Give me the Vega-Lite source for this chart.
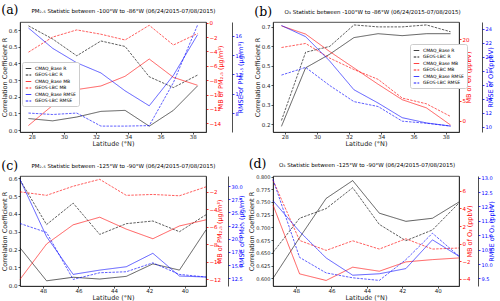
{
 "$schema": "https://vega.github.io/schema/vega-lite/v6.json",
 "padding": {"left": 0, "top": 3, "right": 0, "bottom": 0},
 "background": "white",
 "datasets": {
  "a": [
   {"lat":27.8,"s":"CMAQ_Base R","m":"R","v":0.069},{"lat":29.3,"s":"CMAQ_Base R","m":"R","v":0.055},{"lat":30.8,"s":"CMAQ_Base R","m":"R","v":0.078},{"lat":32.3,"s":"CMAQ_Base R","m":"R","v":0.112},{"lat":33.8,"s":"CMAQ_Base R","m":"R","v":0.118},{"lat":35.3,"s":"CMAQ_Base R","m":"R","v":0.023},{"lat":36.8,"s":"CMAQ_Base R","m":"R","v":0.118},{"lat":38.3,"s":"CMAQ_Base R","m":"R","v":0.265},
   {"lat":27.8,"s":"GEOS-LBC R","m":"R","v":0.626},{"lat":29.3,"s":"GEOS-LBC R","m":"R","v":0.547},{"lat":30.8,"s":"GEOS-LBC R","m":"R","v":0.446},{"lat":32.3,"s":"GEOS-LBC R","m":"R","v":0.535},{"lat":33.8,"s":"GEOS-LBC R","m":"R","v":0.502},{"lat":35.3,"s":"GEOS-LBC R","m":"R","v":0.32},{"lat":36.8,"s":"GEOS-LBC R","m":"R","v":0.255},{"lat":38.3,"s":"GEOS-LBC R","m":"R","v":0.33},
   {"lat":27.8,"s":"CMAQ_Base MB","m":"MB","v":-14.3},{"lat":29.3,"s":"CMAQ_Base MB","m":"MB","v":-11.5},{"lat":30.8,"s":"CMAQ_Base MB","m":"MB","v":-9.3},{"lat":32.3,"s":"CMAQ_Base MB","m":"MB","v":-8.8},{"lat":33.8,"s":"CMAQ_Base MB","m":"MB","v":-7.45},{"lat":35.3,"s":"CMAQ_Base MB","m":"MB","v":-5.05},{"lat":36.8,"s":"CMAQ_Base MB","m":"MB","v":-7.6},{"lat":38.3,"s":"CMAQ_Base MB","m":"MB","v":-8.7},
   {"lat":27.8,"s":"GEOS-LBC MB","m":"MB","v":-4.1},{"lat":29.3,"s":"GEOS-LBC MB","m":"MB","v":-2.0},{"lat":30.8,"s":"GEOS-LBC MB","m":"MB","v":-1.0},{"lat":32.3,"s":"GEOS-LBC MB","m":"MB","v":-1.6},{"lat":33.8,"s":"GEOS-LBC MB","m":"MB","v":-2.4},{"lat":35.3,"s":"GEOS-LBC MB","m":"MB","v":-0.36},{"lat":36.8,"s":"GEOS-LBC MB","m":"MB","v":-3.1},{"lat":38.3,"s":"GEOS-LBC MB","m":"MB","v":-1.5},
   {"lat":27.8,"s":"CMAQ_Base RMSE","m":"RMSE","v":16.8},{"lat":29.3,"s":"CMAQ_Base RMSE","m":"RMSE","v":14.7},{"lat":30.8,"s":"CMAQ_Base RMSE","m":"RMSE","v":13.2},{"lat":32.3,"s":"CMAQ_Base RMSE","m":"RMSE","v":12.15},{"lat":33.8,"s":"CMAQ_Base RMSE","m":"RMSE","v":10.3},{"lat":35.3,"s":"CMAQ_Base RMSE","m":"RMSE","v":8.75},{"lat":36.8,"s":"CMAQ_Base RMSE","m":"RMSE","v":11.9},{"lat":38.3,"s":"CMAQ_Base RMSE","m":"RMSE","v":16.1},
   {"lat":27.8,"s":"GEOS-LBC RMSE","m":"RMSE","v":8.0},{"lat":29.3,"s":"GEOS-LBC RMSE","m":"RMSE","v":7.85},{"lat":30.8,"s":"GEOS-LBC RMSE","m":"RMSE","v":8.0},{"lat":32.3,"s":"GEOS-LBC RMSE","m":"RMSE","v":6.65},{"lat":33.8,"s":"GEOS-LBC RMSE","m":"RMSE","v":6.65},{"lat":35.3,"s":"GEOS-LBC RMSE","m":"RMSE","v":6.7},{"lat":36.8,"s":"GEOS-LBC RMSE","m":"RMSE","v":11.15},{"lat":38.3,"s":"GEOS-LBC RMSE","m":"RMSE","v":17.1}
  ],
  "b": [
   {"lat":27.8,"s":"CMAQ_Base R","m":"R","v":0.19},{"lat":29.3,"s":"CMAQ_Base R","m":"R","v":0.49},{"lat":30.8,"s":"CMAQ_Base R","m":"R","v":0.56},{"lat":32.3,"s":"CMAQ_Base R","m":"R","v":0.645},{"lat":33.8,"s":"CMAQ_Base R","m":"R","v":0.665},{"lat":35.3,"s":"CMAQ_Base R","m":"R","v":0.655},{"lat":36.8,"s":"CMAQ_Base R","m":"R","v":0.665},{"lat":38.3,"s":"CMAQ_Base R","m":"R","v":0.665},
   {"lat":27.8,"s":"GEOS-LBC R","m":"R","v":0.22},{"lat":29.3,"s":"GEOS-LBC R","m":"R","v":0.57},{"lat":30.8,"s":"GEOS-LBC R","m":"R","v":0.60},{"lat":32.3,"s":"GEOS-LBC R","m":"R","v":0.71},{"lat":33.8,"s":"GEOS-LBC R","m":"R","v":0.70},{"lat":35.3,"s":"GEOS-LBC R","m":"R","v":0.70},{"lat":36.8,"s":"GEOS-LBC R","m":"R","v":0.71},{"lat":38.3,"s":"GEOS-LBC R","m":"R","v":0.675},
   {"lat":27.8,"s":"CMAQ_Base MB","m":"MB","v":23.3},{"lat":29.3,"s":"CMAQ_Base MB","m":"MB","v":21.3},{"lat":30.8,"s":"CMAQ_Base MB","m":"MB","v":17.0},{"lat":32.3,"s":"CMAQ_Base MB","m":"MB","v":13.0},{"lat":33.8,"s":"CMAQ_Base MB","m":"MB","v":9.0},{"lat":35.3,"s":"CMAQ_Base MB","m":"MB","v":5.2},{"lat":36.8,"s":"CMAQ_Base MB","m":"MB","v":3.2},{"lat":38.3,"s":"CMAQ_Base MB","m":"MB","v":-1.0},
   {"lat":27.8,"s":"GEOS-LBC MB","m":"MB","v":18.0},{"lat":29.3,"s":"GEOS-LBC MB","m":"MB","v":19.0},{"lat":30.8,"s":"GEOS-LBC MB","m":"MB","v":15.4},{"lat":32.3,"s":"GEOS-LBC MB","m":"MB","v":12.6},{"lat":33.8,"s":"GEOS-LBC MB","m":"MB","v":10.2},{"lat":35.3,"s":"GEOS-LBC MB","m":"MB","v":5.6},{"lat":36.8,"s":"GEOS-LBC MB","m":"MB","v":4.2},{"lat":38.3,"s":"GEOS-LBC MB","m":"MB","v":1.1},
   {"lat":27.8,"s":"CMAQ_Base RMSE","m":"RMSE","v":24.5},{"lat":29.3,"s":"CMAQ_Base RMSE","m":"RMSE","v":22.9},{"lat":30.8,"s":"CMAQ_Base RMSE","m":"RMSE","v":19.4},{"lat":32.3,"s":"CMAQ_Base RMSE","m":"RMSE","v":15.3},{"lat":33.8,"s":"CMAQ_Base RMSE","m":"RMSE","v":13.4},{"lat":35.3,"s":"CMAQ_Base RMSE","m":"RMSE","v":11.3},{"lat":36.8,"s":"CMAQ_Base RMSE","m":"RMSE","v":10.55},{"lat":38.3,"s":"CMAQ_Base RMSE","m":"RMSE","v":10.1},
   {"lat":27.8,"s":"GEOS-LBC RMSE","m":"RMSE","v":17.4},{"lat":29.3,"s":"GEOS-LBC RMSE","m":"RMSE","v":18.5},{"lat":30.8,"s":"GEOS-LBC RMSE","m":"RMSE","v":15.9},{"lat":32.3,"s":"GEOS-LBC RMSE","m":"RMSE","v":13.6},{"lat":33.8,"s":"GEOS-LBC RMSE","m":"RMSE","v":12.9},{"lat":35.3,"s":"GEOS-LBC RMSE","m":"RMSE","v":10.8},{"lat":36.8,"s":"GEOS-LBC RMSE","m":"RMSE","v":10.5},{"lat":38.3,"s":"GEOS-LBC RMSE","m":"RMSE","v":10.1}
  ],
  "c": [
   {"lat":49.3,"s":"CMAQ_Base R","m":"R","v":0.21},{"lat":47.8,"s":"CMAQ_Base R","m":"R","v":0.025},{"lat":46.3,"s":"CMAQ_Base R","m":"R","v":0.045},{"lat":44.8,"s":"CMAQ_Base R","m":"R","v":0.035},{"lat":43.3,"s":"CMAQ_Base R","m":"R","v":0.05},{"lat":41.8,"s":"CMAQ_Base R","m":"R","v":0.12},{"lat":40.3,"s":"CMAQ_Base R","m":"R","v":0.085},{"lat":38.8,"s":"CMAQ_Base R","m":"R","v":0.31},
   {"lat":49.3,"s":"GEOS-LBC R","m":"R","v":0.59},{"lat":47.8,"s":"GEOS-LBC R","m":"R","v":0.34},{"lat":46.3,"s":"GEOS-LBC R","m":"R","v":0.46},{"lat":44.8,"s":"GEOS-LBC R","m":"R","v":0.285},{"lat":43.3,"s":"GEOS-LBC R","m":"R","v":0.345},{"lat":41.8,"s":"GEOS-LBC R","m":"R","v":0.36},{"lat":40.3,"s":"GEOS-LBC R","m":"R","v":0.30},{"lat":38.8,"s":"GEOS-LBC R","m":"R","v":0.395},
   {"lat":49.3,"s":"CMAQ_Base MB","m":"MB","v":-12.0},{"lat":47.8,"s":"CMAQ_Base MB","m":"MB","v":-7.96},{"lat":46.3,"s":"CMAQ_Base MB","m":"MB","v":-5.77},{"lat":44.8,"s":"CMAQ_Base MB","m":"MB","v":-4.9},{"lat":43.3,"s":"CMAQ_Base MB","m":"MB","v":-6.26},{"lat":41.8,"s":"CMAQ_Base MB","m":"MB","v":-7.36},{"lat":40.3,"s":"CMAQ_Base MB","m":"MB","v":-5.9},{"lat":38.8,"s":"CMAQ_Base MB","m":"MB","v":-5.2},
   {"lat":49.3,"s":"GEOS-LBC MB","m":"MB","v":-2.0},{"lat":47.8,"s":"GEOS-LBC MB","m":"MB","v":-2.4},{"lat":46.3,"s":"GEOS-LBC MB","m":"MB","v":-1.36},{"lat":44.8,"s":"GEOS-LBC MB","m":"MB","v":-0.57},{"lat":43.3,"s":"GEOS-LBC MB","m":"MB","v":-2.4},{"lat":41.8,"s":"GEOS-LBC MB","m":"MB","v":-2.3},{"lat":40.3,"s":"GEOS-LBC MB","m":"MB","v":-2.45},{"lat":38.8,"s":"GEOS-LBC MB","m":"MB","v":-1.43},
   {"lat":49.3,"s":"CMAQ_Base RMSE","m":"RMSE","v":31.25},{"lat":47.8,"s":"CMAQ_Base RMSE","m":"RMSE","v":20.4},{"lat":46.3,"s":"CMAQ_Base RMSE","m":"RMSE","v":13.25},{"lat":44.8,"s":"CMAQ_Base RMSE","m":"RMSE","v":14.06},{"lat":43.3,"s":"CMAQ_Base RMSE","m":"RMSE","v":14.7},{"lat":41.8,"s":"CMAQ_Base RMSE","m":"RMSE","v":17.25},{"lat":40.3,"s":"CMAQ_Base RMSE","m":"RMSE","v":12.94},{"lat":38.8,"s":"CMAQ_Base RMSE","m":"RMSE","v":12.75},
   {"lat":49.3,"s":"GEOS-LBC RMSE","m":"RMSE","v":22.9},{"lat":47.8,"s":"GEOS-LBC RMSE","m":"RMSE","v":21.2},{"lat":46.3,"s":"GEOS-LBC RMSE","m":"RMSE","v":12.3},{"lat":44.8,"s":"GEOS-LBC RMSE","m":"RMSE","v":13.56},{"lat":43.3,"s":"GEOS-LBC RMSE","m":"RMSE","v":13.75},{"lat":41.8,"s":"GEOS-LBC RMSE","m":"RMSE","v":15.44},{"lat":40.3,"s":"GEOS-LBC RMSE","m":"RMSE","v":13.25},{"lat":38.8,"s":"GEOS-LBC RMSE","m":"RMSE","v":12.75}
  ],
  "d": [
   {"lat":49.3,"s":"CMAQ_Base R","m":"R","v":0.60},{"lat":47.8,"s":"CMAQ_Base R","m":"R","v":0.68},{"lat":46.3,"s":"CMAQ_Base R","m":"R","v":0.757},{"lat":44.8,"s":"CMAQ_Base R","m":"R","v":0.792},{"lat":43.3,"s":"CMAQ_Base R","m":"R","v":0.728},{"lat":41.8,"s":"CMAQ_Base R","m":"R","v":0.712},{"lat":40.3,"s":"CMAQ_Base R","m":"R","v":0.718},{"lat":38.8,"s":"CMAQ_Base R","m":"R","v":0.75},
   {"lat":49.3,"s":"GEOS-LBC R","m":"R","v":0.651},{"lat":47.8,"s":"GEOS-LBC R","m":"R","v":0.718},{"lat":46.3,"s":"GEOS-LBC R","m":"R","v":0.737},{"lat":44.8,"s":"GEOS-LBC R","m":"R","v":0.778},{"lat":43.3,"s":"GEOS-LBC R","m":"R","v":0.706},{"lat":41.8,"s":"GEOS-LBC R","m":"R","v":0.674},{"lat":40.3,"s":"GEOS-LBC R","m":"R","v":0.695},{"lat":38.8,"s":"GEOS-LBC R","m":"R","v":0.748},
   {"lat":49.3,"s":"CMAQ_Base MB","m":"MB","v":4.4},{"lat":47.8,"s":"CMAQ_Base MB","m":"MB","v":-3.44},{"lat":46.3,"s":"CMAQ_Base MB","m":"MB","v":-4.19},{"lat":44.8,"s":"CMAQ_Base MB","m":"MB","v":-2.68},{"lat":43.3,"s":"CMAQ_Base MB","m":"MB","v":-3.14},{"lat":41.8,"s":"CMAQ_Base MB","m":"MB","v":-2.08},{"lat":40.3,"s":"CMAQ_Base MB","m":"MB","v":-1.82},{"lat":38.8,"s":"CMAQ_Base MB","m":"MB","v":-1.63},
   {"lat":49.3,"s":"GEOS-LBC MB","m":"MB","v":7.2},{"lat":47.8,"s":"GEOS-LBC MB","m":"MB","v":0.36},{"lat":46.3,"s":"GEOS-LBC MB","m":"MB","v":-0.77},{"lat":44.8,"s":"GEOS-LBC MB","m":"MB","v":0.32},{"lat":43.3,"s":"GEOS-LBC MB","m":"MB","v":-0.62},{"lat":41.8,"s":"GEOS-LBC MB","m":"MB","v":0.55},{"lat":40.3,"s":"GEOS-LBC MB","m":"MB","v":-0.62},{"lat":38.8,"s":"GEOS-LBC MB","m":"MB","v":-0.5},
   {"lat":49.3,"s":"CMAQ_Base RMSE","m":"RMSE","v":12.2},{"lat":47.8,"s":"CMAQ_Base RMSE","m":"RMSE","v":11.13},{"lat":46.3,"s":"CMAQ_Base RMSE","m":"RMSE","v":10.21},{"lat":44.8,"s":"CMAQ_Base RMSE","m":"RMSE","v":9.61},{"lat":43.3,"s":"CMAQ_Base RMSE","m":"RMSE","v":9.66},{"lat":41.8,"s":"CMAQ_Base RMSE","m":"RMSE","v":9.84},{"lat":40.3,"s":"CMAQ_Base RMSE","m":"RMSE","v":10.84},{"lat":38.8,"s":"CMAQ_Base RMSE","m":"RMSE","v":10.27},
   {"lat":49.3,"s":"GEOS-LBC RMSE","m":"RMSE","v":12.94},{"lat":47.8,"s":"GEOS-LBC RMSE","m":"RMSE","v":10.23},{"lat":46.3,"s":"GEOS-LBC RMSE","m":"RMSE","v":9.69},{"lat":44.8,"s":"GEOS-LBC RMSE","m":"RMSE","v":9.52},{"lat":43.3,"s":"GEOS-LBC RMSE","m":"RMSE","v":9.43},{"lat":41.8,"s":"GEOS-LBC RMSE","m":"RMSE","v":10.15},{"lat":40.3,"s":"GEOS-LBC RMSE","m":"RMSE","v":11.07},{"lat":38.8,"s":"GEOS-LBC RMSE","m":"RMSE","v":10.27}
  ]
 },
 "columns": 2,
 "bounds": "flush",
 "spacing": {"row": 44, "column": 67},
 "resolve": {"scale": {"color": "independent", "strokeDash": "independent"}, "legend": {"color": "independent", "strokeDash": "independent"}},
 "concat": [
  {
   "width": 186, "height": 110,
   "title": {"text": "(a)", "subtitle": "\u200b\u2003\u2003\u2003\u2003\u2003\u2002PM\u2082.\u2085 Statistic between -100°W to -86°W (06/24/2015-07/08/2015)"},
   "data": {"name": "a"},
   "encoding": {
    "x": {"field": "lat", "type": "quantitative", "scale": {"domain": [27.275, 38.825], "nice": false, "zero": false}, "axis": {"values": [28,30,32,34,36,38], "title": "Latitude (°N)"}},
    "color": {"field": "s", "type": "nominal", "scale": {"domain": ["CMAQ_Base R","GEOS-LBC R","CMAQ_Base MB","GEOS-LBC MB","CMAQ_Base RMSE","GEOS-LBC RMSE"], "range": ["#000000","#000000","#ff0000","#ff0000","#0000ff","#0000ff"]}, "legend": {"orient": "none", "legendX": 2, "legendY": 40, "title": null}},
    "strokeDash": {"field": "s", "type": "nominal", "scale": {"domain": ["CMAQ_Base R","GEOS-LBC R","CMAQ_Base MB","GEOS-LBC MB","CMAQ_Base RMSE","GEOS-LBC RMSE"], "range": [[1,0],[2.5,1.2],[1,0],[2.5,1.2],[1,0],[2.5,1.2]]}, "legend": {"orient": "none", "legendX": 2, "legendY": 40, "title": null}}
   },
   "layer": [
    {"transform": [{"filter": "datum.m == 'R'"}], "mark": {"type": "line"},
     "encoding": {"y": {"field": "v", "type": "quantitative", "scale": {"domain": [-0.012, 0.649], "nice": false, "zero": false}, "axis": {"orient": "left", "title": "Correlation Coefficient R", "values": [0,0.1,0.2,0.3,0.4,0.5,0.6], "format": ".1f"}}}},
    {"transform": [{"filter": "datum.m == 'MB'"}], "mark": {"type": "line"},
     "encoding": {"y": {"field": "v", "type": "quantitative", "scale": {"domain": [-15.2, 0.1], "nice": false, "zero": false}, "axis": {"orient": "right", "title": "MB of PM\u2082.\u2085 (μg/m³)", "values": [-14,-12,-10,-8,-6,-4,-2,0], "labelColor": "#ff0000", "titleColor": "#ff0000", "tickColor": "#ff0000", "titleAngle": 270, "titlePadding": 3}}}},
    {"transform": [{"filter": "datum.m == 'RMSE'"}], "mark": {"type": "line"},
     "encoding": {"y": {"field": "v", "type": "quantitative", "scale": {"domain": [6.04, 17.42], "nice": false, "zero": false}, "axis": {"orient": "right", "offset": 26, "title": "RMSE of PM\u2082.\u2085 (μg/m³)", "values": [8,10,12,14,16], "labelColor": "#0000ff", "titleColor": "#0000ff", "tickColor": "#0000ff", "titleAngle": 270, "labelFontSize": 5, "titlePadding": 2}}}}
   ],
   "resolve": {"scale": {"y": "independent"}}
  },
  {
   "width": 186, "height": 110,
   "title": {"text": "(b)", "subtitle": "\u200b\u2003\u2003\u2003\u2003\u2003\u2002O\u2083 Statistic between -100°W to -86°W (06/24/2015-07/08/2015)"},
   "data": {"name": "b"},
   "encoding": {
    "x": {"field": "lat", "type": "quantitative", "scale": {"domain": [27.275, 38.825], "nice": false, "zero": false}, "axis": {"values": [28,30,32,34,36,38], "title": "Latitude (°N)"}},
    "color": {"field": "s", "type": "nominal", "scale": {"domain": ["CMAQ_Base R","GEOS-LBC R","CMAQ_Base MB","GEOS-LBC MB","CMAQ_Base RMSE","GEOS-LBC RMSE"], "range": ["#000000","#000000","#ff0000","#ff0000","#0000ff","#0000ff"]}, "legend": {"orient": "none", "legendX": 137, "legendY": 22, "title": null}},
    "strokeDash": {"field": "s", "type": "nominal", "scale": {"domain": ["CMAQ_Base R","GEOS-LBC R","CMAQ_Base MB","GEOS-LBC MB","CMAQ_Base RMSE","GEOS-LBC RMSE"], "range": [[1,0],[2.5,1.2],[1,0],[2.5,1.2],[1,0],[2.5,1.2]]}, "legend": {"orient": "none", "legendX": 137, "legendY": 22, "title": null}}
   },
   "layer": [
    {"transform": [{"filter": "datum.m == 'R'"}], "mark": {"type": "line"},
     "encoding": {"y": {"field": "v", "type": "quantitative", "scale": {"domain": [0.161, 0.725], "nice": false, "zero": false}, "axis": {"orient": "left", "title": "Correlation Coefficient R", "values": [0.2,0.3,0.4,0.5,0.6,0.7], "format": ".1f"}}}},
    {"transform": [{"filter": "datum.m == 'MB'"}], "mark": {"type": "line"},
     "encoding": {"y": {"field": "v", "type": "quantitative", "scale": {"domain": [-2.72, 24.26], "nice": false, "zero": false}, "axis": {"orient": "right", "title": "MB of O\u2083 (ppbV)", "values": [0,5,10,15,20], "labelColor": "#ff0000", "titleColor": "#ff0000", "tickColor": "#ff0000", "titleAngle": 270, "titlePadding": 3}}}},
    {"transform": [{"filter": "datum.m == 'RMSE'"}], "mark": {"type": "line"},
     "encoding": {"y": {"field": "v", "type": "quantitative", "scale": {"domain": [9.25, 25.0], "nice": false, "zero": false}, "axis": {"orient": "right", "offset": 23, "title": "RMSE of O\u2083 (ppbV)", "values": [10,12,14,16,18,20,22,24], "labelColor": "#0000ff", "titleColor": "#0000ff", "tickColor": "#0000ff", "titleAngle": 270, "labelFontSize": 5, "titlePadding": 2}}}}
   ],
   "resolve": {"scale": {"y": "independent"}}
  },
  {
   "width": 186, "height": 110,
   "title": {"text": "(c)", "subtitle": "\u200b\u2003\u2003\u2003\u2003\u2003\u2002PM\u2082.\u2085 Statistic between -125°W to -90°W (06/24/2015-07/08/2015)"},
   "data": {"name": "c"},
   "encoding": {
    "x": {"field": "lat", "type": "quantitative", "scale": {"domain": [38.8, 49.3], "reverse": true, "nice": false, "zero": false}, "axis": {"values": [40,42,44,46,48], "title": "Latitude (°N)"}},
    "color": {"field": "s", "type": "nominal", "scale": {"domain": ["CMAQ_Base R","GEOS-LBC R","CMAQ_Base MB","GEOS-LBC MB","CMAQ_Base RMSE","GEOS-LBC RMSE"], "range": ["#000000","#000000","#ff0000","#ff0000","#0000ff","#0000ff"]}, "legend": null},
    "strokeDash": {"field": "s", "type": "nominal", "scale": {"domain": ["CMAQ_Base R","GEOS-LBC R","CMAQ_Base MB","GEOS-LBC MB","CMAQ_Base RMSE","GEOS-LBC RMSE"], "range": [[1,0],[2.5,1.2],[1,0],[2.5,1.2],[1,0],[2.5,1.2]]}, "legend": null}
   },
   "layer": [
    {"transform": [{"filter": "datum.m == 'R'"}], "mark": {"type": "line"},
     "encoding": {"y": {"field": "v", "type": "quantitative", "scale": {"domain": [-0.004, 0.612], "nice": false, "zero": false}, "axis": {"orient": "left", "title": "Correlation Coefficient R", "values": [0,0.1,0.2,0.3,0.4,0.5,0.6], "format": ".1f"}}}},
    {"transform": [{"filter": "datum.m == 'MB'"}], "mark": {"type": "line"},
     "encoding": {"y": {"field": "v", "type": "quantitative", "scale": {"domain": [-12.76, -0.19], "nice": false, "zero": false}, "axis": {"orient": "right", "title": "MB of PM\u2082.\u2085 (μg/m³)", "values": [-12,-10,-8,-6,-4,-2], "labelColor": "#ff0000", "titleColor": "#ff0000", "tickColor": "#ff0000", "titleAngle": 270, "titlePadding": 2}}}},
    {"transform": [{"filter": "datum.m == 'RMSE'"}], "mark": {"type": "line"},
     "encoding": {"y": {"field": "v", "type": "quantitative", "scale": {"domain": [11.05, 31.9], "nice": false, "zero": false}, "axis": {"orient": "right", "offset": 22, "title": "RMSE of PM\u2082.\u2085 (μg/m³)", "values": [12.5,15,17.5,20,22.5,25,27.5,30], "format": ".1f", "labelColor": "#0000ff", "titleColor": "#0000ff", "tickColor": "#0000ff", "titleAngle": 270, "labelFontSize": 5, "titlePadding": 2}}}}
   ],
   "resolve": {"scale": {"y": "independent"}}
  },
  {
   "width": 186, "height": 110,
   "title": {"text": "(d)", "subtitle": "\u200b\u2003\u2003\u2003\u2003\u2003\u2002O\u2083 Statistic between -125°W to -90°W (06/24/2015-07/08/2015)"},
   "data": {"name": "d"},
   "encoding": {
    "x": {"field": "lat", "type": "quantitative", "scale": {"domain": [38.8, 49.3], "reverse": true, "nice": false, "zero": false}, "axis": {"values": [40,42,44,46,48], "title": "Latitude (°N)"}},
    "color": {"field": "s", "type": "nominal", "scale": {"domain": ["CMAQ_Base R","GEOS-LBC R","CMAQ_Base MB","GEOS-LBC MB","CMAQ_Base RMSE","GEOS-LBC RMSE"], "range": ["#000000","#000000","#ff0000","#ff0000","#0000ff","#0000ff"]}, "legend": null},
    "strokeDash": {"field": "s", "type": "nominal", "scale": {"domain": ["CMAQ_Base R","GEOS-LBC R","CMAQ_Base MB","GEOS-LBC MB","CMAQ_Base RMSE","GEOS-LBC RMSE"], "range": [[1,0],[2.5,1.2],[1,0],[2.5,1.2],[1,0],[2.5,1.2]]}, "legend": null}
   },
   "layer": [
    {"transform": [{"filter": "datum.m == 'R'"}], "mark": {"type": "line"},
     "encoding": {"y": {"field": "v", "type": "quantitative", "scale": {"domain": [0.585, 0.801], "nice": false, "zero": false}, "axis": {"orient": "left", "title": "Correlation Coefficient R", "values": [0.6,0.625,0.65,0.675,0.7,0.725,0.75,0.775,0.8], "format": ".3f", "labelFontSize": 5}}}},
    {"transform": [{"filter": "datum.m == 'MB'"}], "mark": {"type": "line"},
     "encoding": {"y": {"field": "v", "type": "quantitative", "scale": {"domain": [-4.82, 7.69], "nice": false, "zero": false}, "axis": {"orient": "right", "title": "MB of O\u2083 (ppbV)", "values": [-4,-2,0,2,4,6], "labelColor": "#ff0000", "titleColor": "#ff0000", "tickColor": "#ff0000", "titleAngle": 270, "titlePadding": 2}}}},
    {"transform": [{"filter": "datum.m == 'RMSE'"}], "mark": {"type": "line"},
     "encoding": {"y": {"field": "v", "type": "quantitative", "scale": {"domain": [9.235, 13.06], "nice": false, "zero": false}, "axis": {"orient": "right", "offset": 19, "title": "RMSE of O\u2083 (ppbV)", "values": [9.5,10,10.5,11,11.5,12,12.5,13], "format": ".1f", "labelColor": "#0000ff", "titleColor": "#0000ff", "tickColor": "#0000ff", "titleAngle": 270, "labelFontSize": 5, "titlePadding": 2}}}}
   ],
   "resolve": {"scale": {"y": "independent"}}
  }
 ],
 "config": {
  "font": "DejaVu Sans",
  "view": {"stroke": "#222222", "strokeWidth": 0.8},
  "line": {"strokeWidth": 0.9, "opacity": 0.7},
  "axis": {"labelFontSize": 5.5, "titleFontSize": 6.5, "titleFontWeight": "normal", "tickSize": 2, "labelPadding": 1, "titlePadding": 1, "grid": false, "domainColor": "#222222", "tickColor": "#222222", "labelColor": "#222222", "titleColor": "#222222", "domainWidth": 0.8, "tickWidth": 0.8},
  "axisX": {"labelPadding": 0.5, "titlePadding": 0},
  "title": {"anchor": "start", "frame": "bounds", "font": "DejaVu Serif", "fontSize": 12.5, "fontWeight": "normal", "subtitleFont": "DejaVu Sans", "subtitleFontSize": 5.5, "subtitlePadding": -8, "offset": 4, "color": "#000000", "subtitleColor": "#000000"},
  "legend": {"symbolType": "stroke", "labelFontSize": 4.5, "symbolSize": 30, "symbolStrokeWidth": 1, "rowPadding": 0.5, "padding": 3, "strokeColor": "#cccccc", "fillColor": "white", "cornerRadius": 2, "labelOffset": 3, "labelLimit": 120}
 }
}
